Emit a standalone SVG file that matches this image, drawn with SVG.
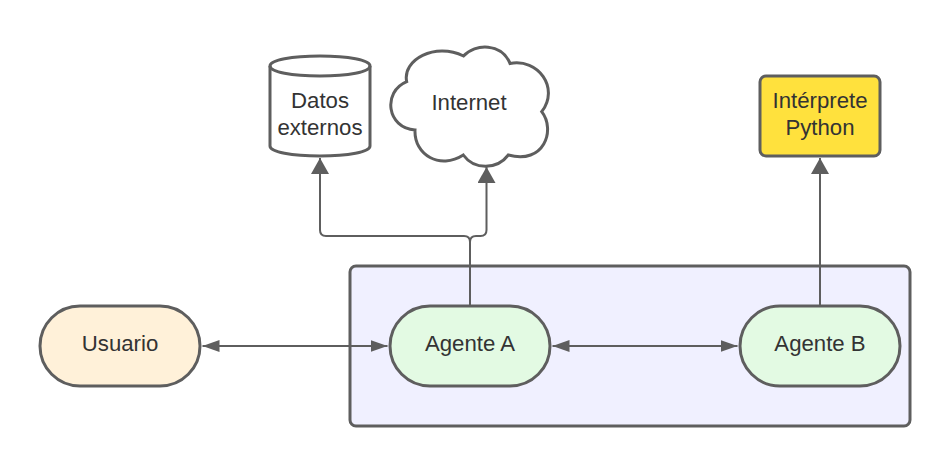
<svg xmlns="http://www.w3.org/2000/svg" width="950" height="466" viewBox="0 0 950 466">
<style>
.s{stroke:#5e5e5e;stroke-width:3}
.c{fill:none;stroke:#5e5e5e;stroke-width:2}
.t{font-family:"Liberation Sans",Arial,sans-serif;font-size:22.2px;fill:#333;text-anchor:middle}
</style>
<defs>
<marker id="up" markerUnits="userSpaceOnUse" markerWidth="17" markerHeight="18" refX="16" refY="9" orient="auto-start-reverse"><path d="M0 0L16 9L0 18Z" fill="#5e5e5e"/></marker>
<marker id="hz" markerUnits="userSpaceOnUse" markerWidth="18" markerHeight="12" refX="17" refY="6" orient="auto-start-reverse"><path d="M0 0L17 6L0 12Z" fill="#5e5e5e"/></marker>
</defs>
<rect width="950" height="466" fill="#fff"/>
<g id="container"><rect class="s" x="350" y="266" width="560" height="160" rx="6" fill="#f0f0ff"/></g>
<g id="connectors">
<path class="c" d="M470 306V242Q470 236 464 236H326Q320 236 320 230V158" marker-end="url(#up)"/>
<path class="c" d="M470 306V242Q470 236 476 236H480.500Q486.500 236 486.500 230V167" marker-end="url(#up)"/>
<path class="c" d="M820 306V158" marker-end="url(#up)"/>
<path class="c" d="M202.500 346H387.500" marker-start="url(#hz)" marker-end="url(#hz)"/>
<path class="c" d="M552.500 346H737.500" marker-start="url(#hz)" marker-end="url(#hz)"/>
</g>
<g id="usuario"><rect class="s" x="40" y="306" width="160" height="80" rx="40" fill="#fff1d9"/><text class="t" x="120" y="350.500">Usuario</text></g>
<g id="agente-a"><rect class="s" x="390" y="306" width="160" height="80" rx="40" fill="#e3fae3"/><text class="t" x="470" y="350.500">Agente A</text></g>
<g id="agente-b"><rect class="s" x="740" y="306" width="160" height="80" rx="40" fill="#e3fae3"/><text class="t" x="820" y="350.500">Agente B</text></g>
<g id="python"><rect class="s" x="760" y="76" width="120" height="80" rx="6" fill="#ffe13d"/><text class="t" x="820" y="108">Intérprete</text><text class="t" x="820" y="134.500">Python</text></g>
<g id="datos"><path class="s" d="M270 66C270 60 292 56 320 56S370 60 370 66V146C370 152 348 156 320 156S270 152 270 146Z" fill="#fff"/><path class="s" d="M270 66C270 72 292 76 320 76S370 72 370 66" fill="none"/><text class="t" x="320" y="108">Datos</text><text class="t" x="320" y="134.500">externos</text></g>
<g id="internet"><path class="s" fill="#fff" d="M406.700 81.700C402 60 435 42 463.500 56C475 43 502 43 510 63.500C538 58 560 88 541.700 111.700C556 130 544 165 508.300 155C497 170 474 170 463.300 155C440 170 414 155 415 130C387 128 382 92 406.700 81.700Z"/><text class="t" x="469" y="110">Internet</text></g>
</svg>
